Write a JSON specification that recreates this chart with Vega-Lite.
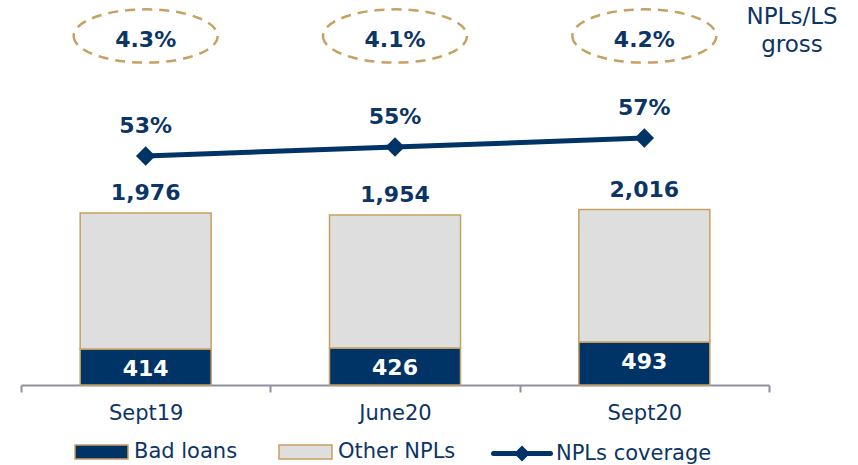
{
  "$schema": "https://vega.github.io/schema/vega-lite/v6.json",
  "background": "white",
  "padding": {"left": 20, "top": 0, "right": 5, "bottom": 0},
  "config": {
    "view": {"stroke": null},
    "font": "DejaVu Sans",
    "legend": {
      "orient": "none",
      "direction": "horizontal",
      "labelFontSize": 21,
      "labelColor": "#0B3566",
      "labelFont": "DejaVu Sans",
      "labelOffset": 21.5,
      "columnPadding": 38,
      "padding": 0
    }
  },
  "datasets": {
    "bars": [
      {"period": "Sept19", "series": "Bad loans", "value": 414},
      {"period": "Sept19", "series": "Other NPLs", "value": 1562},
      {"period": "June20", "series": "Bad loans", "value": 426},
      {"period": "June20", "series": "Other NPLs", "value": 1528},
      {"period": "Sept20", "series": "Bad loans", "value": 493},
      {"period": "Sept20", "series": "Other NPLs", "value": 1523}
    ],
    "summary": [
      {"period": "Sept19", "total": 1976, "bad": 414, "coverage": 0.53, "ratio": 0.043},
      {"period": "June20", "total": 1954, "bad": 426, "coverage": 0.55, "ratio": 0.041},
      {"period": "Sept20", "total": 2016, "bad": 493, "coverage": 0.57, "ratio": 0.042}
    ]
  },
  "spacing": 8,
  "vconcat": [
    {
      "width": 748,
      "height": 72,
      "data": {"name": "summary"},
      "title": {
        "text": ["NPLs/LS", "gross"],
        "orient": "right",
        "angle": 0,
        "anchor": "start",
        "align": "center",
        "baseline": "top",
        "offset": 24,
        "dx": -92,
        "fontSize": 23,
        "fontWeight": "normal",
        "color": "#0B3566",
        "font": "DejaVu Sans",
        "lineHeight": 28,
        "dy": 6
      },
      "encoding": {
        "x": {"field": "period", "type": "nominal", "sort": null, "scale": {"paddingInner": 0, "paddingOuter": 0}, "axis": null}
      },
      "layer": [
        {
          "mark": {"type": "point", "shape": "M-1,0A1,0.37,0,1,0,1,0A1,0.37,0,1,0,-1,0Z", "size": 20736, "filled": false, "stroke": "#C8A062", "strokeWidth": 2.5, "strokeDash": [10, 7], "opacity": 1}
        },
        {
          "mark": {"type": "text", "fontSize": 22, "fontWeight": "bold", "color": "#0B3566", "baseline": "middle", "dy": 4},
          "encoding": {"text": {"field": "ratio", "type": "quantitative", "format": ".1%"}}
        }
      ]
    },
    {
      "width": 748,
      "height": 305,
      "layer": [
        {
          "data": {"name": "bars"},
          "mark": {"type": "bar", "size": 131, "stroke": "#C8A062", "strokeWidth": 1.5},
          "encoding": {
            "x": {"field": "period", "type": "nominal", "sort": null, "scale": {"paddingInner": 0, "paddingOuter": 0},
              "axis": {"title": null, "labelAngle": 0, "domainColor": "#8E8FA0", "domainWidth": 2, "tickColor": "#8E8FA0", "tickWidth": 2, "tickSize": 7, "tickBand": "extent", "labelFontSize": 21, "labelColor": "#0B3566", "labelFont": "DejaVu Sans", "labelPadding": 10}},
            "y": {"field": "value", "type": "quantitative", "stack": "zero", "scale": {"domain": [0, 3504]}, "axis": null},
            "fill": {"field": "series", "type": "nominal", "scale": {"domain": ["Bad loans", "Other NPLs"], "range": ["#003366", "#DEDEDE"]},
              "legend": {"title": null, "legendX": 69.5, "legendY": 441, "symbolType": "M-2.65,-0.7H2.65V0.7H-2.65Z", "symbolSize": 400, "symbolStrokeColor": "#C8A062", "symbolStrokeWidth": 1.5}},
            "order": {"field": "series"}
          }
        },
        {
          "data": {"name": "summary"},
          "mark": {"type": "text", "fontSize": 22, "fontWeight": "bold", "color": "#0B3566", "baseline": "alphabetic", "dy": -13},
          "encoding": {
            "x": {"field": "period", "type": "nominal", "sort": null},
            "y": {"field": "total", "type": "quantitative", "scale": {"domain": [0, 3504]}, "axis": null},
            "text": {"field": "total", "type": "quantitative", "format": ","}
          }
        },
        {
          "data": {"name": "summary"},
          "mark": {"type": "text", "fontSize": 22, "fontWeight": "bold", "color": "white", "baseline": "middle", "dy": 20},
          "encoding": {
            "x": {"field": "period", "type": "nominal", "sort": null},
            "y": {"field": "bad", "type": "quantitative", "scale": {"domain": [0, 3504]}, "axis": null},
            "text": {"field": "bad", "type": "quantitative", "format": ","}
          }
        },
        {
          "data": {"name": "summary"},
          "encoding": {
            "x": {"field": "period", "type": "nominal", "sort": null},
            "y": {"field": "coverage", "type": "quantitative", "scale": {"domain": [0.021, 0.699]}, "axis": null}
          },
          "layer": [
            {
              "mark": {"type": "line", "strokeWidth": 5},
              "encoding": {
                "stroke": {"datum": "NPLs coverage", "type": "nominal", "scale": {"domain": ["NPLs coverage"], "range": ["#003366"]},
                  "legend": {"title": null, "legendX": 488.5, "legendY": 441, "labelOffset": 21.5, "symbolType": "M-2.85,0H2.85M-0.45,0L0,-0.45L0.45,0L0,0.45Z", "symbolSize": 400, "symbolStrokeWidth": 5, "symbolFillColor": "#003366",
                    "encode": {"symbols": {"update": {"fill": {"value": "#003366"}, "strokeWidth": {"value": 5}, "strokeCap": {"value": "round"}}}}}}
              }
            },
            {
              "mark": {"type": "point", "shape": "diamond", "size": 380, "filled": true, "color": "#003366", "opacity": 1}
            },
            {
              "mark": {"type": "text", "fontSize": 22, "fontWeight": "bold", "color": "#0B3566", "baseline": "alphabetic", "dy": -23},
              "encoding": {"text": {"field": "coverage", "type": "quantitative", "format": ".0%"}}
            }
          ]
        }
      ],
      "resolve": {"scale": {"y": "independent"}}
    }
  ]
}
